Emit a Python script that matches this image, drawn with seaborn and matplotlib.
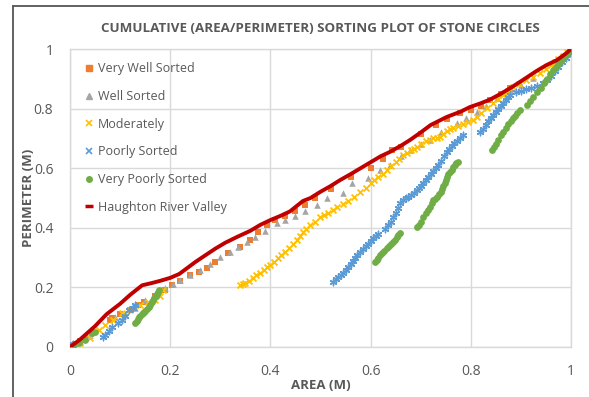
import matplotlib
matplotlib.use('Agg')
import matplotlib.pyplot as plt
from matplotlib.lines import Line2D
import seaborn as sns

# Cumulative (area, perimeter) fractions
vws_area = [0.0, 0.01, 0.02, 0.03, 0.08, 0.084, 0.1, 0.12, 0.135, 0.148, 0.17, 0.19, 0.204, 0.22, 0.24, 0.257, 0.273, 0.29,
            0.315, 0.339, 0.359, 0.375, 0.393, 0.41, 0.43, 0.45, 0.47, 0.49, 0.52, 0.56, 0.6, 0.625, 0.643, 0.66, 0.7, 0.73,
            0.752, 0.778, 0.8, 0.82, 0.838, 0.86, 0.878]
vws_perim = [0.0, 0.01, 0.02, 0.03, 0.09, 0.097, 0.11, 0.125, 0.14, 0.151, 0.17, 0.19, 0.208, 0.222, 0.242, 0.252, 0.265, 0.285,
             0.315, 0.336, 0.359, 0.385, 0.409, 0.425, 0.44, 0.455, 0.475, 0.5, 0.53, 0.57, 0.6, 0.63, 0.66, 0.67, 0.715, 0.745,
             0.765, 0.785, 0.795, 0.81, 0.83, 0.85, 0.87]

ws_area = [0.005, 0.02, 0.04, 0.09, 0.11, 0.13, 0.15, 0.17, 0.19, 0.205, 0.22, 0.24, 0.26, 0.28, 0.3, 0.32, 0.335, 0.353,
           0.37, 0.39, 0.413, 0.43, 0.45, 0.47, 0.493, 0.513, 0.545, 0.563, 0.595, 0.619, 0.639, 0.66, 0.679, 0.7, 0.719,
           0.74, 0.772, 0.79, 0.812, 0.83, 0.852, 0.88, 0.9, 0.924]
ws_perim = [0.005, 0.02, 0.04, 0.1, 0.11, 0.13, 0.158, 0.175, 0.198, 0.21, 0.225, 0.24, 0.258, 0.278, 0.302, 0.32, 0.335, 0.352,
            0.37, 0.39, 0.416, 0.425, 0.44, 0.455, 0.477, 0.5, 0.517, 0.55, 0.567, 0.594, 0.611, 0.64, 0.661, 0.68, 0.695,
            0.72, 0.752, 0.77, 0.789, 0.81, 0.836, 0.86, 0.88, 0.903]

mod_area_low = [0.0, 0.02, 0.04, 0.058, 0.07, 0.085, 0.104, 0.12, 0.14, 0.155, 0.17, 0.18, 0.186]
mod_perim_low = [0.0, 0.012, 0.03, 0.057, 0.074, 0.09, 0.114, 0.125, 0.14, 0.15, 0.158, 0.17, 0.19]
mod_area_main = [0.34, 0.345, 0.35, 0.357, 0.365, 0.372, 0.38, 0.387, 0.393, 0.4, 0.407, 0.415, 0.422, 0.43, 0.437,
                 0.445, 0.453, 0.46, 0.465, 0.472, 0.48, 0.49, 0.499, 0.507, 0.515, 0.524, 0.533, 0.545, 0.555, 0.567,
                 0.579, 0.59, 0.6, 0.607, 0.615, 0.624, 0.633, 0.641, 0.65, 0.657, 0.665, 0.672, 0.68, 0.687, 0.693,
                 0.7, 0.71, 0.718, 0.725, 0.732, 0.739, 0.745, 0.752, 0.758, 0.765, 0.775, 0.785, 0.795, 0.804, 0.812,
                 0.82, 0.832, 0.844, 0.855, 0.865, 0.875, 0.884, 0.897, 0.91, 0.924, 0.938, 0.95, 0.96, 0.968, 0.975,
                 0.984, 0.992]
mod_perim_main = [0.208, 0.21, 0.215, 0.222, 0.23, 0.24, 0.25, 0.26, 0.27, 0.276, 0.285, 0.3, 0.31, 0.32, 0.333,
                  0.345, 0.36, 0.372, 0.385, 0.397, 0.41, 0.42, 0.435, 0.443, 0.45, 0.46, 0.47, 0.48, 0.49, 0.505,
                  0.52, 0.535, 0.55, 0.56, 0.57, 0.582, 0.594, 0.607, 0.62, 0.632, 0.644, 0.652, 0.66, 0.666, 0.671,
                  0.68, 0.69, 0.695, 0.7, 0.703, 0.705, 0.715, 0.725, 0.73, 0.735, 0.742, 0.75, 0.756, 0.762, 0.772,
                  0.785, 0.802, 0.819, 0.832, 0.845, 0.858, 0.872, 0.883, 0.895, 0.907, 0.92, 0.933, 0.945, 0.955, 0.965,
                  0.977, 0.99]

ps_area_low = [0.0, 0.005, 0.065, 0.07, 0.078, 0.084, 0.095, 0.104, 0.11, 0.118, 0.125, 0.13]
ps_perim_low = [0.005, 0.01, 0.035, 0.04, 0.055, 0.067, 0.08, 0.09, 0.105, 0.124, 0.132, 0.141]
ps_area_a = [0.525, 0.53, 0.535, 0.54, 0.545, 0.55, 0.555, 0.56, 0.565, 0.569, 0.573, 0.579, 0.585, 0.59, 0.595, 0.6,
             0.605, 0.61, 0.615]
ps_perim_a = [0.218, 0.228, 0.235, 0.243, 0.25, 0.26, 0.27, 0.28, 0.29, 0.3, 0.31, 0.32, 0.33, 0.338, 0.345, 0.355,
              0.365, 0.372, 0.38]
ps_area_b = [0.629, 0.634, 0.64, 0.645, 0.65, 0.655, 0.659, 0.665, 0.67, 0.675, 0.68, 0.686, 0.692, 0.696, 0.7, 0.705,
             0.71, 0.715, 0.72, 0.725, 0.73, 0.735, 0.74, 0.746, 0.752, 0.757, 0.762, 0.767, 0.772, 0.778, 0.784]
ps_perim_b = [0.395, 0.408, 0.42, 0.435, 0.45, 0.467, 0.483, 0.492, 0.5, 0.505, 0.51, 0.518, 0.527, 0.533, 0.54, 0.55,
              0.56, 0.57, 0.58, 0.59, 0.6, 0.612, 0.625, 0.64, 0.655, 0.665, 0.675, 0.683, 0.69, 0.7, 0.711]
ps_area_c = [0.818, 0.824, 0.83, 0.835, 0.84, 0.845, 0.85, 0.855, 0.86, 0.865, 0.87, 0.874, 0.878,
             0.89, 0.9, 0.91, 0.92, 0.932, 0.944, 0.952, 0.96, 0.968, 0.975, 0.983, 0.99, 0.998]
ps_perim_c = [0.722, 0.733, 0.745, 0.757, 0.77, 0.78, 0.79, 0.8, 0.81, 0.82, 0.83, 0.838, 0.846,
              0.855, 0.86, 0.865, 0.87, 0.877, 0.885, 0.897, 0.91, 0.925, 0.94, 0.955, 0.97, 0.987]

vps_area_low = [0.005, 0.018, 0.03, 0.044, 0.05, 0.13, 0.133, 0.135, 0.138, 0.14, 0.143, 0.145, 0.148, 0.15, 0.154,
                0.157, 0.16, 0.163, 0.166, 0.168, 0.171, 0.173, 0.176, 0.178]
vps_perim_low = [0.0, 0.013, 0.025, 0.047, 0.05, 0.08, 0.088, 0.095, 0.1, 0.105, 0.11, 0.115, 0.118, 0.122, 0.128,
                 0.134, 0.142, 0.15, 0.158, 0.165, 0.172, 0.178, 0.185, 0.19]
vps_area_a = [0.609, 0.612, 0.615, 0.619, 0.622, 0.627, 0.632, 0.636, 0.64, 0.644, 0.648, 0.652, 0.655, 0.659]
vps_perim_a = [0.285, 0.292, 0.3, 0.308, 0.315, 0.323, 0.332, 0.338, 0.345, 0.353, 0.36, 0.368, 0.375, 0.383]
vps_area_b = [0.692, 0.696, 0.7, 0.705, 0.71, 0.714, 0.718, 0.722, 0.725, 0.729, 0.732, 0.736, 0.74, 0.743, 0.745,
              0.748, 0.75, 0.753, 0.755, 0.759, 0.762, 0.765, 0.768, 0.771, 0.774]
vps_perim_b = [0.403, 0.41, 0.42, 0.435, 0.45, 0.46, 0.47, 0.482, 0.493, 0.498, 0.503, 0.512, 0.52, 0.53, 0.54,
               0.55, 0.56, 0.57, 0.58, 0.588, 0.595, 0.603, 0.61, 0.616, 0.621]
vps_area_c = [0.842, 0.846, 0.85, 0.855, 0.86, 0.865, 0.87, 0.875, 0.88, 0.884, 0.888, 0.893, 0.898,
              0.912, 0.918, 0.925, 0.932, 0.94, 0.946, 0.952, 0.958, 0.964, 0.97, 0.975, 0.98, 0.985, 0.992, 0.998]
vps_perim_c = [0.661, 0.67, 0.68, 0.695, 0.71, 0.722, 0.735, 0.748, 0.76, 0.768, 0.775, 0.785, 0.795,
               0.812, 0.826, 0.84, 0.855, 0.87, 0.885, 0.9, 0.915, 0.93, 0.94, 0.95, 0.96, 0.97, 0.983, 0.995]

hrv_area = [0.0, 0.02, 0.05, 0.073, 0.1, 0.12, 0.144, 0.164, 0.18, 0.2, 0.218, 0.23, 0.25, 0.265, 0.29, 0.31, 0.333,
            0.36, 0.38, 0.4, 0.42, 0.439, 0.465, 0.48, 0.499, 0.52, 0.539, 0.56, 0.58, 0.6, 0.62, 0.639, 0.66, 0.679,
            0.7, 0.72, 0.752, 0.78, 0.798, 0.82, 0.838, 0.86, 0.88, 0.904, 0.93, 0.95, 0.972, 0.99, 1.0]
hrv_perim = [0.0, 0.025, 0.07, 0.11, 0.145, 0.175, 0.207, 0.215, 0.222, 0.232, 0.245, 0.26, 0.285, 0.302, 0.33, 0.35,
             0.369, 0.39, 0.41, 0.426, 0.44, 0.455, 0.49, 0.5, 0.52, 0.54, 0.56, 0.58, 0.6, 0.62, 0.64, 0.655, 0.675,
             0.695, 0.72, 0.745, 0.772, 0.79, 0.805, 0.818, 0.83, 0.85, 0.87, 0.896, 0.925, 0.945, 0.963, 0.985, 1.0]

series_names = ['Very Well Sorted', 'Well Sorted', 'Moderately', 'Poorly Sorted', 'Very Poorly Sorted',
                'Haughton River Valley']
ticks = [0, 0.2, 0.4, 0.6, 0.8, 1]
tick_labels = ['0', '0.2', '0.4', '0.6', '0.8', '1']

mod_area = mod_area_low + mod_area_main
mod_perim = mod_perim_low + mod_perim_main
ps_area = ps_area_low + ps_area_a + ps_area_b + ps_area_c
ps_perim = ps_perim_low + ps_perim_a + ps_perim_b + ps_perim_c
vps_area = vps_area_low + vps_area_a + vps_area_b + vps_area_c
vps_perim = vps_perim_low + vps_perim_a + vps_perim_b + vps_perim_c

sns.set_theme(style='white')
plt.rcParams['font.family'] = ['Open Sans', 'DejaVu Sans']
text_col = '#595959'

fig = plt.figure(figsize=(5.89, 3.97), dpi=100)
ax = fig.add_axes([70 / 589, 1 - 347 / 397, 501 / 589, 298 / 397])

# series styles (Excel-like palette)
styles = [
    (vws_area, vws_perim, 's', '#ED7D31', 16, 0),
    (ws_area, ws_perim, '^', '#A5A5A5', 22, 0),
    (mod_area, mod_perim, 'x', '#FFC000', 18, 1.3),
    (ps_area, ps_perim, (6, 2, 0), '#5B9BD5', 22, 1.0),
    (vps_area, vps_perim, 'o', '#70AD47', 24, 0),
]
for xs, ys, mk, col, sz, lw in styles:
    sns.scatterplot(x=xs, y=ys, marker=mk, color=col, s=sz, linewidth=lw, edgecolor=col, ax=ax, zorder=3)

sns.lineplot(x=hrv_area, y=hrv_perim, sort=False, color='#C00000', linewidth=2.8, ax=ax, zorder=4)

ax.set_xlim(0, 1)
ax.set_ylim(0, 1)
ax.set_xticks(ticks)
ax.set_yticks(ticks)
ax.set_xticklabels(tick_labels)
ax.set_yticklabels(tick_labels)
ax.grid(True, color='#D9D9D9', linewidth=1)
for sp in ax.spines.values():
    sp.set_color('#D9D9D9')
    sp.set_linewidth(1)
ax.tick_params(axis='both', length=0, labelsize=10, colors=text_col)
ax.tick_params(axis='x', pad=12)
ax.tick_params(axis='y', pad=12)

ax.set_xlabel('AREA (M)', fontsize=9.5, fontweight='bold', color=text_col, labelpad=0)
ax.set_ylabel('PERIMETER (M)', fontsize=9.5, fontweight='bold', color=text_col, labelpad=-1)
fig.text(320 / 589, 1 - 29 / 397, 'CUMULATIVE (AREA/PERIMETER) SORTING PLOT OF STONE CIRCLES', ha='center', va='center',
         fontsize=9.6, fontweight='bold', color=text_col)

handles = [
    Line2D([], [], ls='none', marker='s', color='#ED7D31', markersize=4),
    Line2D([], [], ls='none', marker='^', color='#A5A5A5', markersize=4),
    Line2D([], [], ls='none', marker='x', color='#FFC000', markersize=4, mew=1.2),
    Line2D([], [], ls='none', marker='x', color='#5B9BD5', markersize=4, mew=1.2),
    Line2D([], [], ls='none', marker='o', color='#70AD47', markersize=4),
    Line2D([], [], ls='none', marker='_', color='#C00000', markersize=6, mew=2.5),
]
leg = ax.legend(handles, series_names, loc='upper left', bbox_to_anchor=(0.03, 0.955), frameon=False, fontsize=9,
                handlelength=0.6, handletextpad=0.4, labelspacing=1.17, borderpad=0, borderaxespad=0)
for t in leg.get_texts():
    t.set_color(text_col)

# frame of the cropped screenshot
fig.add_artist(Line2D([13 / 589, 13 / 589], [0, 1 - 6 / 397], color='#555555', lw=1.3, transform=fig.transFigure))
fig.add_artist(Line2D([13 / 589, 1], [1 - 6 / 397, 1 - 6 / 397], color='#555555', lw=1.3, transform=fig.transFigure))

fig.savefig('out.png', dpi=100)
